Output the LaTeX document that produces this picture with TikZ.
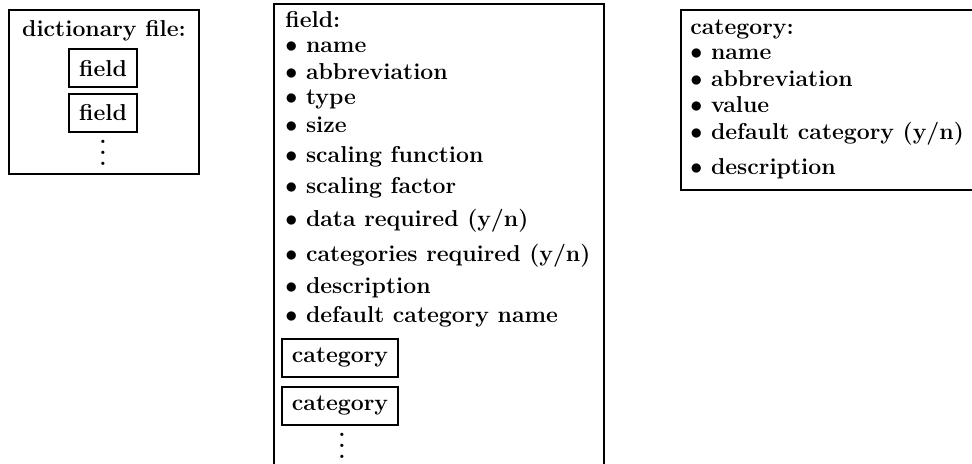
\documentclass[tikz,border=0pt]{standalone}
\newcommand\tallvdots{\vbox{\baselineskip5.5pt\lineskiplimit0pt\hbox{.}\hbox{.}\hbox{.}}}
\begin{document}
\begin{tikzpicture}[x=0.5pt,y=-0.5pt,
  font=\fontsize{11.5}{14}\selectfont\bfseries,
  frame/.style={draw,line width=1pt,anchor=north west,inner sep=0pt},
  entry/.style={draw,line width=1pt,inner sep=0pt,minimum height=19pt},
  item/.style={anchor=base west,inner sep=0pt},
  morerows/.style={inner sep=0pt}]
\useasboundingbox (0,0) rectangle (972,464);

% dictionary file
\node[frame,minimum width=95pt,minimum height=82pt] (dict) at (8,9) {};
\node[anchor=base,inner sep=0pt] (dicttitle) at (104,37) {dictionary file:};
\node[entry,minimum width=34pt] (dictfield1) at (103,68.5) {field};
\node[entry,minimum width=34pt] (dictfield2) at (103,113) {field};
\node[morerows] (dictdots) at (103,153) {\tallvdots};

% field
\node[frame,minimum width=165pt,minimum height=240pt] (field) at (273,3) {};
\node[item] (fieldtitle) at (285,28) {field:};
\foreach \t/\y [count=\i] in {name/53,abbreviation/80,type/105,size/133,
    scaling function/163,scaling factor/194,{data required (y/n)}/227,
    {categories required (y/n)}/262,description/293,default category name/322}
  \node[item] (fielditem\i) at (285,\y) {$\bullet$ \t};
\node[entry,minimum width=58pt] (fieldcat1) at (340,358) {category};
\node[entry,minimum width=58pt] (fieldcat2) at (340,406) {category};
\node[morerows] (fielddots) at (342,446) {\tallvdots};

% category
\node[frame,minimum width=155pt,minimum height=90pt] (category) at (680,9) {};
\node[item] (cattitle) at (690,35) {category:};
\foreach \t/\y [count=\i] in {name/60,abbreviation/87,value/113,
    {default category (y/n)}/140,description/175}
  \node[item] (catitem\i) at (690,\y) {$\bullet$ \t};
\end{tikzpicture}
\end{document}
